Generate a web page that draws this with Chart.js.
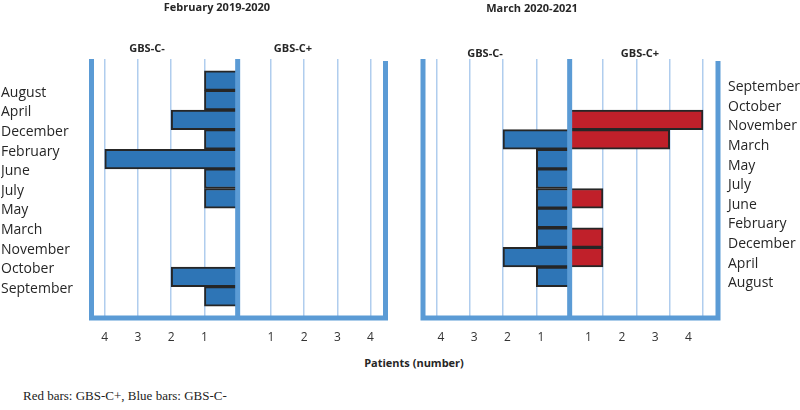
<!DOCTYPE html>
<html><head><meta charset="utf-8">
<script src="https://cdn.jsdelivr.net/npm/chart.js@4/dist/chart.umd.min.js"></script>
<style>
html,body{margin:0;padding:0;background:#fff;}
#wrap{position:relative;width:800px;height:410px;overflow:hidden;background:#fff;}
.c{position:absolute;top:0;height:350px;width:400px;}
.t{position:absolute;transform:translate(-50%,-50%);white-space:nowrap;line-height:1;font-family:"Open Sans",sans-serif;font-weight:bold;color:#262626;font-size:11px;}
.foot{position:absolute;left:23px;top:395px;transform:translateY(-50%);font-family:"Liberation Serif","Times New Roman",serif;font-size:13px;color:#222;white-space:nowrap;line-height:1;}
</style></head><body>
<div id="wrap">
<div class="c" style="left:0"><canvas id="c1"></canvas></div>
<div class="c" style="left:400px"><canvas id="c2"></canvas></div>
<div class="t" style="left:217px;top:6px">February 2019-2020</div>
<div class="t" style="left:532px;top:7px">March 2020-2021</div>
<div class="t" style="left:147px;top:47px">GBS-C-</div>
<div class="t" style="left:293px;top:47px">GBS-C+</div>
<div class="t" style="left:485px;top:52px">GBS-C-</div>
<div class="t" style="left:640px;top:52px">GBS-C+</div>
<div class="t" style="left:414px;top:362px">Patients (number)</div>
<div class="foot">Red bars: GBS-C+, Blue bars: GBS-C-</div>
</div>
<script>
// Month labels (as printed on each panel, top to bottom)
const monthsA = ['August','April','December','February','June','July','May','March','November','October','September'];
const monthsB = ['September','October','November','March','May','July','June','February','December','April','August'];
// Bar rows, top to bottom (12 rows per panel)
const gbsNegA = [1,1,2,1,4,1,1,0,0,0,2,1];
const gbsPosA = [0,0,0,0,0,0,0,0,0,0,0,0];
const gbsNegB = [0,0,0,2,1,1,1,1,1,2,1,0];
const gbsPosB = [0,0,4,3,0,0,1,0,1,1,0,0];
// Axis tick labels (patients)
const tickValues = [1,2,3,4];

const BLUE = '#2e75b6', RED = '#c0202a', EDGE = '#262626', FRAME = '#5b9bd5', GRID = '#b0cdee';

function points(arr, sign){
  return arr.map((v,i)=>({x: sign*v, y: i})).filter(p => p.x !== 0);
}

const framePlugin = {
  id: 'frame',
  afterDatasetsDraw(chart){
    const {ctx, chartArea: a, scales: {x}} = chart;
    const cx = x.getPixelForValue(0);
    ctx.save();
    ctx.strokeStyle = FRAME;
    ctx.lineWidth = 5;
    ctx.beginPath();
    ctx.moveTo(a.left, a.top); ctx.lineTo(a.left, a.bottom + 2.5);
    ctx.moveTo(a.left - 2.5, a.bottom); ctx.lineTo(a.right + 2.5, a.bottom);
    ctx.moveTo(a.right, a.bottom + 2.5); ctx.lineTo(a.right, a.top + 2);
    ctx.moveTo(cx, a.top); ctx.lineTo(cx, a.bottom);
    ctx.stroke();
    ctx.restore();
  }
};

function makeChart(id, months, neg, pos, side){
  const allTicks = [...tickValues.map(v => -v).reverse(), ...tickValues];
  const labelShift = side === 'left' ? 0.62 : 0.33;
  const scales = {
    x: {
      type: 'linear', min: -4.4, max: 4.45, offset: false,
      afterBuildTicks: s => { s.ticks = allTicks.map(v => ({value: v})); },
      ticks: {
        callback: v => (side === 'right' && v > 0) ? '' : String(Math.abs(v)),
        font: {family: 'Open Sans', size: 12}, color: '#333', padding: 12,
        autoSkip: false, maxRotation: 0,
        labelOffset: side === 'right' ? 4.5 : 0
      },
      grid: {color: GRID, lineWidth: 1.5, drawTicks: false},
      border: {display: false},
      afterFit: s => { s.height = 32; }
    },
    y: {
      type: 'linear', min: -1.1, max: 12.1, reverse: true, offset: false,
      position: side === 'left' ? 'left' : 'right',
      afterBuildTicks: s => { s.ticks = months.map((m,i) => ({value: i + labelShift})); },
      ticks: {
        callback: (v,i) => months[i],
        crossAlign: side === 'left' ? 'far' : 'near',
        padding: side === 'left' ? 0 : 10,
        font: {family: 'Open Sans', size: 14}, color: '#262626', autoSkip: false
      },
      grid: {display: false, drawTicks: false, offset: false},
      border: {display: false},
      afterFit: s => { s.width = side === 'left' ? 90.5 : 82; }
    }
  };
  if (side === 'right') {
    scales.x2 = {
      type: 'linear', axis: 'x', min: -4.4, max: 4.45, offset: false,
      position: {y: 12.1},
      afterBuildTicks: s => { s.ticks = tickValues.map(v => ({value: v})); },
      ticks: {
        callback: v => String(v),
        font: {family: 'Open Sans', size: 12}, color: '#333', padding: 12,
        autoSkip: false, maxRotation: 0, labelOffset: -14.5
      },
      grid: {display: false, drawTicks: false},
      border: {display: false}
    };
  }
  const common = {borderColor: EDGE, borderWidth: 2, borderSkipped: false, grouped: false,
                  categoryPercentage: 1, barPercentage: 1};
  return new Chart(document.getElementById(id), {
    type: 'bar',
    data: {
      datasets: [
        Object.assign({label: 'GBS-C-', data: points(neg, -1), backgroundColor: BLUE}, common),
        Object.assign({label: 'GBS-C+', data: points(pos, 1), backgroundColor: RED}, common)
      ]
    },
    options: {
      indexAxis: 'y',
      responsive: true, maintainAspectRatio: false, animation: false,
      layout: {padding: side === 'left' ? {left: 1, right: 14.5, top: 59, bottom: 0} : {left: 23, right: 0, top: 59, bottom: 0}},
      plugins: {legend: {display: false}, tooltip: {enabled: false}, title: {display: false}},
      scales
    },
    plugins: [framePlugin]
  });
}

makeChart('c1', monthsA, gbsNegA, gbsPosA, 'left');
makeChart('c2', monthsB, gbsNegB, gbsPosB, 'right');
</script>
</body></html>
